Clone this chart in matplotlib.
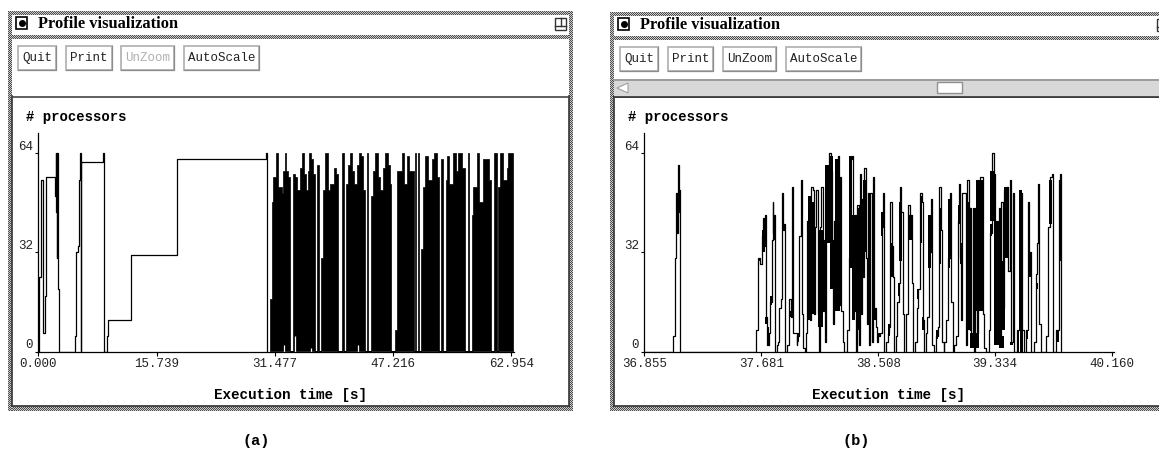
import numpy as np
import matplotlib
matplotlib.use('Agg')
import matplotlib.pyplot as plt
from matplotlib.patches import Rectangle, Polygon

W, H = 1159, 449

# ---- panel (a): times in seconds, processors in use
a_early_t = [0.12, 0.28, 0.57, 0.88, 1.01, 2.21, 2.28, 2.34, 2.41, 2.48, 2.54, 2.61, 2.68,
             4.87, 5.07, 5.27, 5.40, 5.60, 5.67, 5.72, 8.66, 8.73,
             9.13, 9.26, 12.33, 18.41, 30.33, 30.39]
a_early_v = [24, 55, 6, 18, 56, 50, 64, 45, 64, 30, 64, 20, 0,
             5, 32, 34, 55, 64, 0, 61, 64, 0,
             5, 10, 31, 62, 64, 0]

a_dense_t = [30.87, 31.09, 31.27, 31.58, 31.89, 32.42, 32.60, 32.78, 32.95, 33.22, 33.53, 33.84,
             34.11, 34.20, 34.42, 34.86, 35.08, 35.40, 35.66, 35.88, 36.02, 36.24, 36.50, 36.86,
             37.08, 37.30, 37.61, 37.84, 38.10, 38.50, 38.86, 39.30, 39.61, 39.88, 40.41, 40.68,
             40.94, 41.21, 41.43, 41.74, 41.96, 42.41, 42.63, 42.98, 43.20, 43.43, 43.69, 43.87,
             44.22, 44.31, 44.49, 44.85, 45.20, 45.51, 45.82, 46.18, 46.53, 46.80, 46.89, 47.51,
             47.69, 48.35, 48.66, 49.11, 49.37, 49.99, 50.13, 50.26, 50.48, 50.66, 50.93, 51.15,
             51.46, 51.90, 52.35, 52.66, 53.01, 53.37, 53.59, 53.90, 54.26, 54.43, 54.70, 55.23,
             55.59, 55.90, 56.34, 56.78, 57.14, 57.32, 57.67, 57.89, 58.34, 58.69, 59.14, 59.93,
             60.25, 60.65, 61.00, 61.13, 61.44, 61.89, 62.33, 62.55, 63.22]
a_dense_v = [17, 48, 56, 64, 53, 51, 58, 64, 58, 56, 0, 57,
             0, 56, 52, 59, 64, 57, 52, 58, 64, 62, 57, 0,
             60, 0, 30, 52, 64, 52, 54, 59, 57, 0, 64, 0,
             54, 60, 64, 58, 54, 60, 64, 63, 52, 0, 64, 0,
             6, 50, 58, 64, 56, 52, 59, 64, 60, 54, 0, 7,
             58, 64, 54, 63, 58, 0, 64, 0, 64, 0, 33, 53,
             63, 55, 62, 64, 56, 0, 62, 0, 55, 63, 54, 64,
             58, 64, 59, 0, 64, 0, 44, 53, 64, 48, 62, 55,
             0, 64, 0, 53, 64, 55, 59, 64, 0]
a_speck_t = [32.64, 34.20, 36.28, 42.50]
a_speck_v = [2, 5, 1, 2]

# ---- panel (b): each burst is read as sampling ticks after its own start time
tick_s = 0.002357
b0_start = 36.542
b0_ticks = [218, 225, 228, 231, 233, 236, 238, 241]
b0_v = [5, 30, 51, 38, 60, 45, 52, 0]

b1_start = 37.602
b1_ticks = [18, 25, 30, 35, 38, 41, 44, 47, 52, 56, 59, 63, 66, 68, 70, 73, 75, 80, 85, 88, 93, 96, 99,
            103, 105, 110, 118, 122, 126, 130, 140, 142, 147, 152, 155, 160, 165, 168, 172, 176, 180,
            184, 188, 192, 196, 199, 204, 207, 210, 214, 218, 221, 224, 227, 230, 235, 238, 242, 246,
            249, 253, 258, 264, 268, 271, 274, 278, 282, 290, 296, 299, 305, 309, 312, 316, 318, 322, 326]
b1_v = [7, 30, 28, 37, 43, 34, 44, 11, 2, 6, 16, 16, 36, 48, 38, 44, 0, 2, 3, 14, 17, 51, 39,
        41, 0, 2, 17, 11, 53, 6, 2, 5, 37, 55, 12, 1, 0, 6, 42, 49, 10,
        53, 52, 12, 40, 52, 12, 0, 40, 53, 13, 36, 3, 49, 53, 38, 64, 58, 36,
        9, 42, 60, 63, 15, 56, 13, 3, 0, 7, 30, 62, 63, 38, 13, 44, 0, 47, 2]

b2_start = 38.380
b2_ticks = [0, 3, 6, 9, 13, 17, 20, 24, 27, 31, 35, 39, 43, 47, 51, 55, 60, 65, 69, 73, 78, 84, 88, 91,
            95, 99, 102, 108, 112, 116, 119, 124, 128, 132, 138, 143, 150, 155, 158, 165, 170, 175,
            180, 185, 188, 192, 198, 202, 207, 212, 216, 222, 226, 232, 236, 242, 246, 250, 252, 256,
            262, 268, 272, 278, 282, 288, 292, 296, 300, 303, 306, 312, 316, 320, 325, 329]
b2_v = [57, 12, 49, 24, 59, 30, 9, 51, 2, 51, 3, 56, 14, 8, 3, 5, 6, 40, 51, 0, 3, 6, 8, 48,
        34, 24, 0, 5, 16, 22, 53, 45, 12, 0, 12, 47, 44, 22, 0, 3, 14, 20,
        51, 48, 10, 0, 6, 11, 32, 49, 2, 0, 5, 8, 53, 39, 3, 0, 3, 10,
        30, 51, 16, 0, 2, 5, 42, 54, 30, 10, 51, 51, 2, 55, 46, 7]

b3_start = 39.158
b3_ticks = [0, 3, 7, 10, 15, 20, 24, 28, 33, 38, 42, 46, 56, 60, 64, 70, 74, 77, 81, 85, 90, 93, 97, 100,
            108, 113, 118, 122, 127, 132, 141, 148, 155, 160, 167, 172, 177, 183, 190, 197, 200, 204,
            207, 212, 226, 232, 238, 245, 248, 258, 265, 270, 273]
b3_v = [46, 2, 46, 0, 46, 6, 49, 56, 56, 12, 1, 0, 7, 38, 64, 57, 42, 5, 42, 46, 2, 48, 14, 52,
        53, 26, 55, 3, 51, 0, 7, 51, 7, 0, 7, 48, 32, 0, 3, 25, 35, 54,
        9, 0, 5, 40, 56, 57, 0, 7, 55, 57, 0]

# stretches where the trace oscillates so fast it prints solid: first tick, last tick, low, high
b1_solid_from = [27, 35, 45, 50, 60, 68, 97, 120, 142, 174, 187, 205, 226, 240, 255, 296, 306, 320]
b1_solid_to = [33, 44, 50, 56, 67, 74, 103, 126, 148, 184, 194, 218, 245, 250, 270, 306, 316, 330]
b1_solid_low = [29, 32, 9, 2, 15, 36, 39, 11, 3, 10, 12, 8, 35, 20, 13, 27, 10, 7]
b1_solid_high = [30, 39, 11, 8, 18, 40, 40, 13, 6, 50, 48, 39, 60, 63, 62, 63, 44, 46]

b2_solid_from = [0, 10, 40, 55, 62, 85, 92, 113, 118, 148, 172, 180, 186, 205, 228, 238, 262, 292, 298, 320]
b2_solid_to = [10, 22, 48, 62, 70, 90, 99, 118, 125, 156, 177, 186, 192, 213, 233, 243, 270, 300, 305, 330]
b2_solid_low = [25, 32, 10, 5, 37, 5, 24, 18, 29, 36, 17, 35, 7, 27, 4, 28, 27, 41, 28, 7]
b2_solid_high = [40, 55, 14, 6, 45, 9, 35, 22, 48, 44, 20, 50, 11, 44, 7, 46, 49, 47, 35, 48]

b3_solid_from = [0, 8, 16, 60, 60, 70, 85, 95, 100, 120, 141, 147, 150, 168, 175, 197, 236, 260, 266]
b3_solid_to = [8, 25, 40, 75, 66, 88, 100, 105, 115, 127, 146, 155, 158, 172, 183, 204, 244, 267, 274]
b3_solid_low = [1, 1, 13, 42, 37, 2, 1, 7, 30, 2, 0, 7, 0, 4, 24, 20, 41, 3, 29]
b3_solid_high = [6, 6, 55, 58, 41, 42, 5, 29, 53, 3, 7, 52, 7, 7, 32, 22, 55, 7, 55]

# ---- ticks and text
a_xticks = [0.0, 15.739, 31.477, 47.216, 62.954]
a_xlabels = ['0.000', '15.739', '31.477', '47.216', '62.954']
b_xticks = [36.855, 37.681, 38.508, 39.334, 40.160]
b_xlabels = ['36.855', '37.681', '38.508', '39.334', '40.160']
y_ticks = [0, 32, 64]
buttons = ['Quit', 'Print', 'UnZoom', 'AutoScale']

MONO = 'Liberation Mono'
SERIF = 'Liberation Serif'


def stipple(bg, x0, y0, x1, y1):
    ny, nx = int(y1 - y0), int(x1 - x0)
    yy, xx = np.indices((ny, nx))
    bg.imshow(((xx + yy) % 2) * 0.5 + 0.3, extent=(x0, x1, y1, y0), cmap='gray', vmin=0, vmax=1,
              interpolation='nearest', aspect='auto', zorder=2)


def window(bg, x0, x1, top, bottom, btn_x, btn_top, unzoom_grey, label_x):
    # outer frame, title separator and the inner panel
    stipple(bg, x0, top, x1, top + 4)
    stipple(bg, x0, bottom - 5, x1, bottom)
    stipple(bg, x0, top, x0 + 4, bottom)
    stipple(bg, x1 - 4, top, x1, bottom)
    stipple(bg, x0 + 4, top + 24, x1 - 4, top + 28)
    bg.plot([x0 + 4, x0 + 4], [96, bottom - 5], color='#333333', lw=1.2, zorder=3)
    bg.plot([x0 + 4, x1 - 4], [bottom - 5.5, bottom - 5.5], color='#333333', lw=1.2, zorder=3)
    bg.plot([x1 - 4.5, x1 - 4.5], [96, bottom - 5], color='#333333', lw=1.2, zorder=3)
    bg.plot([x0 + 4, x1 - 4], [96.5, 96.5], color='#444444', lw=1.2, zorder=3)

    # menu box and the title
    bg.add_patch(Rectangle((x0 + 8, top + 6), 11, 12, fc='white', ec='black', lw=1.2, zorder=3))
    bg.plot([x0 + 13.5], [top + 12], 'o', color='black', ms=4, zorder=4)
    bg.text(x0 + 30, top + 13, 'Profile visualization', family=SERIF, weight='bold', fontsize=11.8,
            ha='left', va='center', color='black', zorder=4)

    # resize box
    bg.add_patch(Rectangle((x1 - 18, top + 7), 11, 12, fc='white', ec='#333333', lw=1, zorder=3))
    bg.plot([x1 - 18, x1 - 7], [top + 15, top + 15], color='#333333', lw=1, zorder=4)
    bg.plot([x1 - 12, x1 - 12], [top + 7, top + 15], color='#333333', lw=1, zorder=4)

    for name, (b0, b1) in zip(buttons, btn_x):
        bg.add_patch(Rectangle((b0, btn_top), b1 - b0, 24, fc='white', ec='#b4b4b4', lw=1.3, zorder=3))
        bg.plot([b0, b1, b1], [btn_top + 24, btn_top + 24, btn_top], color='#8c8c8c', lw=0.9, zorder=3)
        col = '#b0b0b0' if (unzoom_grey and name == 'UnZoom') else '#222222'
        bg.text((b0 + b1) / 2, btn_top + 12, name, family=MONO, fontsize=9, ha='center', va='center',
                color=col, zorder=4)

    bg.text(x0 + 18, 116.7, '# processors', family=MONO, weight='bold', fontsize=10,
            ha='left', va='center', color='black', zorder=4)
    bg.text(label_x, 395, 'Execution time [s]', family=MONO, weight='bold', fontsize=10.3,
            ha='center', va='center', color='black', zorder=4)


def make_axes(fig, x0, x1, xlim, xticks, xlabels):
    top, base = 133, 351.5
    ax = fig.add_axes([x0 / W, 1 - base / H, (x1 - x0) / W, (base - top) / H], facecolor='none')
    ax.set_xlim(*xlim)
    ax.set_ylim(0, 64 * (base - top) / 199.0)
    ax.spines['top'].set_visible(False)
    ax.spines['right'].set_visible(False)
    ax.spines['left'].set_linewidth(0.9)
    ax.spines['bottom'].set_linewidth(0.9)
    ax.set_xticks(xticks)
    ax.set_xticklabels(xlabels, family=MONO, fontsize=9, color='#222222')
    ax.set_yticks(y_ticks)
    ax.set_yticklabels([str(v) for v in y_ticks], family=MONO, fontsize=9, color='#222222', va='bottom')
    ax.tick_params(axis='x', length=3, width=0.8, pad=2)
    ax.tick_params(axis='y', length=2, width=0.8, pad=2)
    return ax


fig = plt.figure(figsize=(W / 100, H / 100), dpi=100, facecolor='white')

bg = fig.add_axes([0, 0, 1, 1])
bg.set_axis_off()

window(bg, 8, 573, 11, 411, [(18, 56), (66, 112), (121, 174), (184, 259)], 46, True, 290)
window(bg, 610, 1175, 12, 411, [(620, 658), (668, 713), (723, 776), (786, 861)], 47, False, 888)

# scrollbar of the zoomed window
bg.add_patch(Rectangle((614, 79), 545, 18, fc='#d8d8d8', ec='none', zorder=3))
bg.plot([614, 1159], [79.5, 79.5], color='#909090', lw=1.2, zorder=4)
bg.plot([614, 1159], [96.5, 96.5], color='#333333', lw=1.2, zorder=4)
bg.add_patch(Polygon([(617, 88), (628, 83), (628, 93)], fc='white', ec='#a0a0a0', lw=0.8, zorder=4))
bg.add_patch(Rectangle((937, 82), 25, 11, fc='white', ec='#909090', lw=1, zorder=4))

bg.text(256.5, 441, '(a)', family=MONO, weight='bold', fontsize=11, ha='center', va='center', color='black')
bg.text(856, 441, '(b)', family=MONO, weight='bold', fontsize=11, ha='center', va='center', color='black')

bg.set_xlim(0, W)
bg.set_ylim(H, 0)

ax_a = make_axes(fig, 38.4, 514, (0, 63.3), a_xticks, a_xlabels)
ax_a.step([0] + a_early_t, [0] + a_early_v, where='post', color='black', lw=0.9)
ax_a.fill_between([a_dense_t[0]] + a_dense_t, [0] + a_dense_v, step='post', facecolor='black',
                  edgecolor='black', lw=0.5)
ax_a.vlines(a_speck_t, 0, a_speck_v, color='white', lw=0.9)

ax_b = make_axes(fig, 644.3, 1114, (36.855, 40.174), b_xticks, b_xlabels)
b_t = [36.855]
b_v = [0]
for start, ticks, vals in [(b0_start, b0_ticks, b0_v), (b1_start, b1_ticks, b1_v),
                           (b2_start, b2_ticks, b2_v), (b3_start, b3_ticks, b3_v)]:
    b_t += [start + tick_s * k for k in ticks]
    b_v += vals
ax_b.step(b_t, b_v, where='post', color='black', lw=0.9)

for start, t0, t1, low, high in [(b1_start, b1_solid_from, b1_solid_to, b1_solid_low, b1_solid_high),
                                 (b2_start, b2_solid_from, b2_solid_to, b2_solid_low, b2_solid_high),
                                 (b3_start, b3_solid_from, b3_solid_to, b3_solid_low, b3_solid_high)]:
    left = start + tick_s * np.array(t0)
    width = tick_s * (np.array(t1) - np.array(t0))
    ax_b.bar(left, np.array(high) - np.array(low), width=width, bottom=low, align='edge', color='black', lw=0)

fig.savefig('out.png', dpi=100)
